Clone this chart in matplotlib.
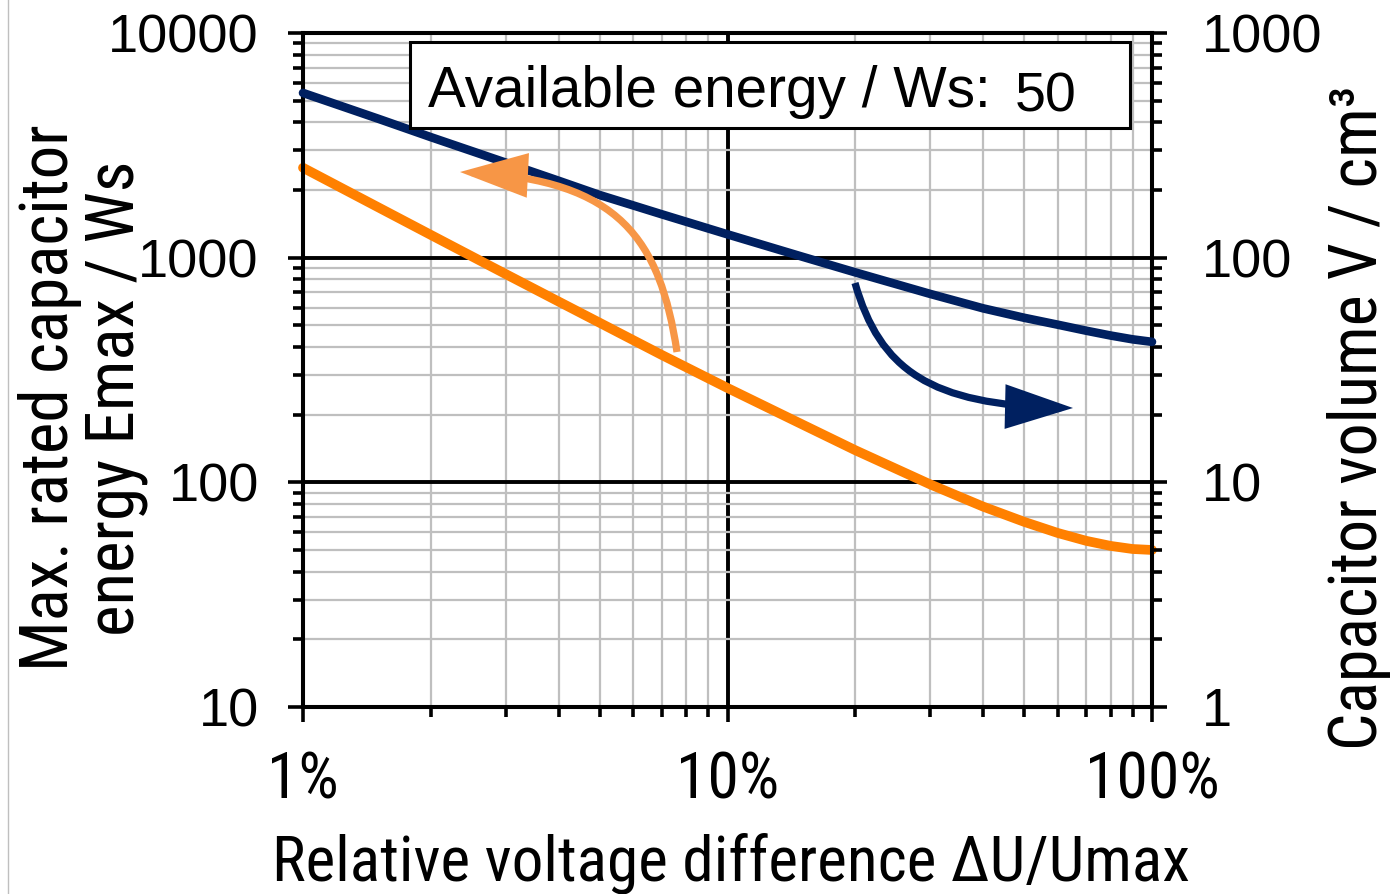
import matplotlib
matplotlib.use('Agg')
import matplotlib.pyplot as plt
from matplotlib import font_manager as fm
from matplotlib.path import Path
from matplotlib.patches import FancyArrowPatch, Rectangle, ArrowStyle
from matplotlib.ticker import FixedLocator, NullFormatter, LogLocator
from matplotlib.lines import Line2D

# ---------------- data ----------------
delta_pct = [1, 1.5, 2, 3, 4, 5, 7, 10, 15, 20, 30, 40, 50, 60, 70, 80, 90, 100]
energy_ws = [2513, 1680, 1263, 846, 638, 513, 369, 263, 181, 139, 98, 78, 66.7, 59.5, 54.9, 52.1, 50.5, 50]
volume_cm3 = [541, 416, 344, 265, 220, 190, 156, 127, 101, 86, 69, 59.5, 54, 50.3, 47.3, 45, 43.3, 42.2]
x_ticks = [1, 10, 100]
x_tick_labels = ['1%', '10%', '100%']
left_ticks = [10, 100, 1000, 10000]
left_tick_labels = ['10', '100', '1000', '10000']
right_ticks = [1, 10, 100, 1000]
right_tick_labels = ['1', '10', '100', '1000']
available_energy = '50'

# ---------------- fonts ----------------
regular = ['Liberation Sans', 'DejaVu Sans']
names = {f.name for f in fm.fontManager.ttflist}
narrow = ['Roboto Condensed', 'Liberation Sans', 'DejaVu Sans'] if 'Roboto Condensed' in names \
    else ['Liberation Sans', 'DejaVu Sans']


def NFP(size):
    return fm.FontProperties(family=narrow, size=size)


NAVY = '#002060'
ORANGE = '#FF8000'
LIGHT_ORANGE = '#F79646'
GRID = '#BFBFBF'

W, H = 1397, 894
fig = plt.figure(figsize=(W / 100, H / 100), dpi=100)
renderer = fig.canvas.get_renderer()


def fit(t, target, vertical=False):
    """scale a text's font size so its length matches the target length in pixels"""
    for _ in range(2):
        bb = t.get_window_extent(renderer)
        cur = bb.height if vertical else bb.width
        t.set_fontsize(t.get_fontsize() * target / cur)
    return t.get_fontsize()


L, R, T, B = 303, 1152, 33, 707
ax = fig.add_axes([L / W, 1 - B / H, (R - L) / W, (B - T) / H])
ax.set_xscale('log')
ax.set_yscale('log')
ax.set_xlim(1, 100)
ax.set_ylim(10, 10000)

ax2 = ax.twinx()
ax2.set_yscale('log')
ax2.set_ylim(1, 1000)

# grid
ax.set_axisbelow(True)
ax.xaxis.set_minor_locator(LogLocator(base=10, subs=range(2, 10)))
ax.yaxis.set_minor_locator(LogLocator(base=10, subs=range(2, 10)))
ax2.yaxis.set_minor_locator(LogLocator(base=10, subs=range(2, 10)))
ax.grid(which='minor', color=GRID, lw=1.6)
ax.grid(which='major', color='black', lw=2.8)

# ticks
ax.xaxis.set_major_locator(FixedLocator(x_ticks))
ax.set_xticklabels(x_tick_labels)
ax.yaxis.set_major_locator(FixedLocator(left_ticks))
ax.set_yticklabels(left_tick_labels)
ax2.yaxis.set_major_locator(FixedLocator(right_ticks))
ax2.set_yticklabels(right_tick_labels)
for a in (ax.xaxis, ax.yaxis, ax2.yaxis):
    a.set_minor_formatter(NullFormatter())

ax.tick_params(axis='both', which='major', direction='out', length=10.8, width=2.6)
ax.tick_params(axis='both', which='minor', direction='out', length=7.2, width=2.6)
ax.tick_params(axis='y', which='major', pad=21)
ax.tick_params(axis='x', which='major', pad=20)
ax.tick_params(top=False, which='both')
ax2.tick_params(axis='y', which='major', direction='out', length=10.8, width=2.6, pad=25)
ax2.tick_params(axis='y', which='minor', direction='out', length=7.2, width=2.6)

# x tick label size fitted on '100%' (135 px wide in the reference)
probe = fig.text(0, 0, x_tick_labels[-1], fontproperties=NFP(45))
xt_size = fit(probe, 135)
probe.remove()

for lab in ax.get_yticklabels() + ax2.get_yticklabels():
    lab.set_fontfamily(regular)
    lab.set_fontsize(39)
for lab in ax.get_xticklabels():
    lab.set_fontproperties(NFP(xt_size))

for a in (ax, ax2):
    for s in a.spines.values():
        s.set_linewidth(2.9)
        s.set_color('black')

# curves
ax.plot(delta_pct, energy_ws, color=ORANGE, lw=7.0, solid_capstyle='round', clip_on=False, zorder=3)
ax2.plot(delta_pct, volume_cm3, color=NAVY, lw=6.2, solid_capstyle='round', clip_on=False, zorder=3)


def P(px, py):
    return ((px - L) / (R - L), (B - py) / (B - T))


# curved arrows
orange_path = Path([P(677, 352), P(660, 240), P(620, 180), P(460, 172)],
                   [Path.MOVETO, Path.CURVE4, Path.CURVE4, Path.CURVE4])
arr1 = FancyArrowPatch(path=orange_path, transform=ax2.transAxes,
                       arrowstyle=ArrowStyle('-|>', head_length=38, head_width=12.5),
                       mutation_scale=1, color=LIGHT_ORANGE, lw=5.2, zorder=4,
                       capstyle='butt', joinstyle='miter')
ax2.add_patch(arr1)
navy_path = Path([P(855, 283), P(880, 370), P(930, 405), P(1073, 408)],
                 [Path.MOVETO, Path.CURVE4, Path.CURVE4, Path.CURVE4])
arr2 = FancyArrowPatch(path=navy_path, transform=ax2.transAxes,
                       arrowstyle=ArrowStyle('-|>', head_length=38, head_width=12.5),
                       mutation_scale=1, color=NAVY, lw=5.2, zorder=4,
                       capstyle='butt', joinstyle='miter')
ax2.add_patch(arr2)

# info box
x0, y0 = P(410, 128)
x1, y1 = P(1130, 42)
ax2.add_patch(Rectangle((x0, y0), x1 - x0, y1 - y0, transform=ax2.transAxes,
                        facecolor='white', edgecolor='black', lw=2.2, zorder=5))
t_box = fig.text(428 / W, 1 - 107 / H, 'Available energy / Ws:', family=regular, fontsize=41.5,
                 ha='left', va='baseline', zorder=6)
fit(t_box, 562)
fig.text(1015 / W, 1 - 111 / H, available_energy, family=regular, fontsize=40,
         ha='left', va='baseline', zorder=6)

# axis labels
t_x = fig.text(731 / W, 1 - 880 / H, 'Relative voltage difference ΔU/Umax', fontproperties=NFP(42),
               ha='center', va='baseline')
fit(t_x, 918)
t_l1 = fig.text(68 / W, 1 - 398 / H, 'Max. rated capacitor', fontproperties=NFP(43),
                rotation=90, rotation_mode='anchor', ha='center', va='baseline')
t_l2 = fig.text(133 / W, 1 - 398 / H, 'energy Emax / Ws', fontproperties=NFP(43),
                rotation=90, rotation_mode='anchor', ha='center', va='baseline')
s1 = fit(t_l1, 535, vertical=True)
s2 = fit(t_l2, 485, vertical=True)
t_l1.set_fontsize((s1 + s2) / 2)
t_l2.set_fontsize((s1 + s2) / 2)
t_r = fig.text(1377 / W, 1 - 418 / H, 'Capacitor volume V / cm³', fontproperties=NFP(43),
               rotation=90, rotation_mode='anchor', ha='center', va='baseline')
fit(t_r, 665, vertical=True)

# thin frame line at left edge
fig.add_artist(Line2D([8 / W, 8 / W], [0, 1], transform=fig.transFigure, color=GRID, lw=1))

fig.savefig('out.png', dpi=100, facecolor='white')
